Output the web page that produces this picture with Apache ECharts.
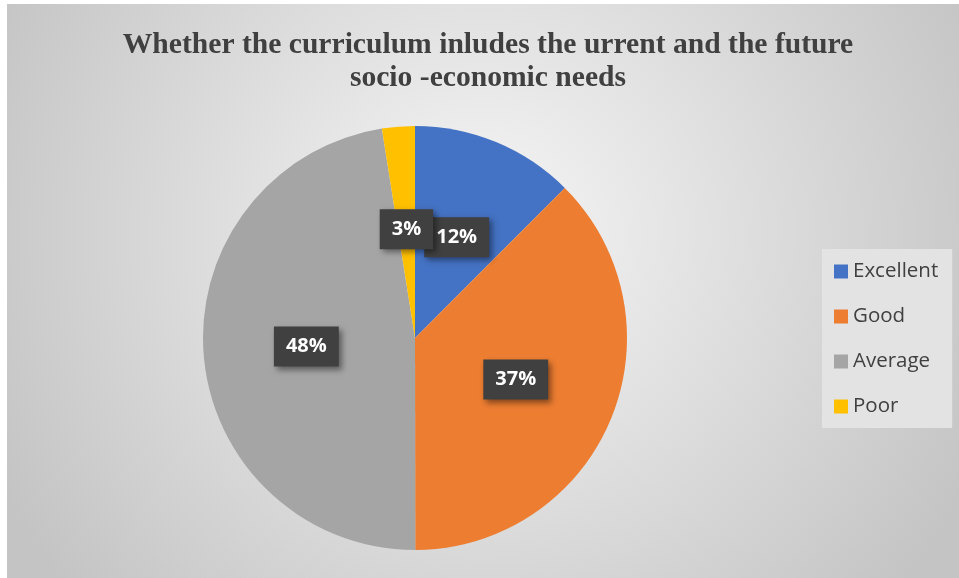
<!DOCTYPE html>
<html>
<head>
<meta charset="utf-8">
<script src="https://cdn.jsdelivr.net/npm/echarts@6/dist/echarts.min.js"></script>
<style>
html,body{margin:0;padding:0;background:#fff;}
#chart{width:959px;height:578px;}
</style>
</head>
<body>
<div id="chart"></div>
<script>
const titleLines = ['Whether the curriculum inludes the urrent and the future', 'socio -economic needs'];
const categories = ['Excellent', 'Good', 'Average', 'Poor'];
const values = [12.49, 37.49, 47.52, 2.5];
const colors = ['#4472C4', '#ED7D31', '#A5A5A5', '#FFC000'];

const chart = echarts.init(document.getElementById('chart'), null, {renderer: 'canvas'});
chart.setOption({
  backgroundColor: '#ffffff',
  animation: false,
  graphic: [
    {
      type: 'rect', z: -10, silent: true,
      shape: {x: 7, y: 4, width: 952, height: 574},
      style: {
        fill: {
          type: 'radial', x: 0.5, y: 0.4, r: 0.95,
          colorStops: [{offset: 0, color: '#f6f6f6'}, {offset: 1, color: '#c4c4c4'}]
        }
      }
    },
    {
      type: 'text', z: 10,
      style: {
        text: titleLines.join('\n'),
        x: 488, y: 29,
        textAlign: 'center', textVerticalAlign: 'top',
        fontFamily: '"Liberation Serif", "Times New Roman", serif',
        fontWeight: 'bold', fontSize: 29.6, lineHeight: 33,
        fill: '#404040'
      }
    }
  ],
  legend: {
    orient: 'vertical',
    left: 822, top: 249,
    padding: [12, 14, 11, 12],
    backgroundColor: '#e3e3e3',
    itemWidth: 14, itemHeight: 14, itemGap: 24,
    icon: 'rect',
    selectedMode: false,
    data: categories,
    textStyle: {
      fontFamily: '"Open Sans", sans-serif',
      fontSize: 20.5, lineHeight: 20, color: '#404040'
    }
  },
  series: [{
    type: 'pie',
    center: [415, 338],
    radius: [0, 212],
    startAngle: 90,
    clockwise: true,
    avoidLabelOverlap: false,
    color: colors,
    data: categories.map((c, i) => ({name: c, value: values[i]})),
    labelLayout: {hideOverlap: false},
    label: {
      show: true,
      position: 'inside',
      formatter: p => Math.round(p.value) + '%',
      fontFamily: '"Open Sans", sans-serif',
      fontWeight: 'bold', fontSize: 20, color: '#ffffff',
      backgroundColor: '#404040',
      padding: [10, 12, 10, 12],
      shadowColor: 'rgba(0,0,0,0.45)', shadowBlur: 6, shadowOffsetX: 3, shadowOffsetY: 3
    },
    labelLine: {show: false},
    emphasis: {disabled: true}
  }]
});
</script>
</body>
</html>
